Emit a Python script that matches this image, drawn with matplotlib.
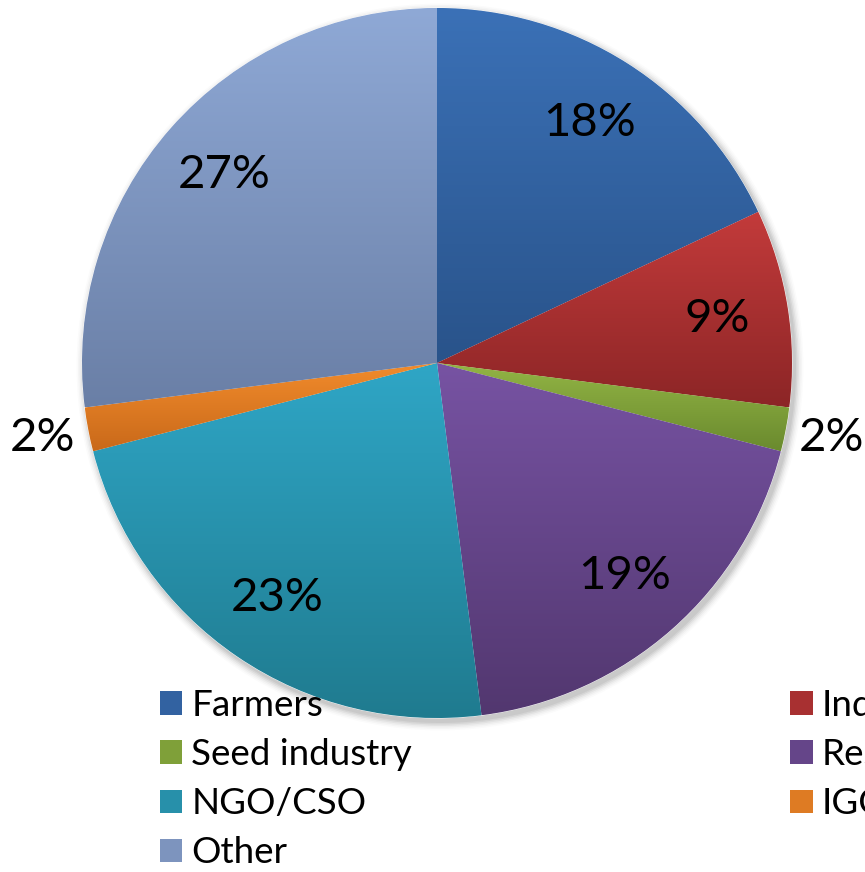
import numpy as np
import matplotlib
matplotlib.use("Agg")
from matplotlib import pyplot as plt
from matplotlib.patches import Patch, Circle
from matplotlib.colors import to_rgb

categories = ["Farmers", "Industry", "Seed industry", "Research", "NGO/CSO", "IGO", "Other"]
shares = [18, 9, 2, 19, 23, 2, 27]
top_colors = ["#3b71b7", "#c33b3b", "#93b545", "#7753a3", "#2fa6c6", "#f28c2c", "#8fa9d6"]
bottom_colors = ["#29538a", "#8c2526", "#6a8a2e", "#52376f", "#1f7a8e", "#c9691a", "#6a7fa6"]

plt.rcParams['font.family'] = ['Lato', 'DejaVu Sans']

fig = plt.figure(figsize=(8.65, 8.72), dpi=100)
ax = fig.add_axes([0, 0, 1, 1])

cx, cy, R = 437, 872 - 363, 355

# soft shadow under the pie
for i, a in enumerate(np.linspace(0.06, 0.015, 6)):
    ax.add_patch(Circle((cx + 3, cy - 4), R + 1 + i * 1.5, color="black", alpha=a, lw=0, zorder=0))

wedges, texts, autotexts = ax.pie(
    shares, startangle=90, counterclock=False, center=(cx, cy), radius=R,
    colors=top_colors, autopct="%d%%", pctdistance=0.80, frame=True,
    wedgeprops=dict(linewidth=0.6, edgecolor="white"),
    textprops=dict(fontsize=34, color="black"),
)
ax.set_xlim(0, 865)
ax.set_ylim(0, 872)
ax.axis("off")

# vertical gradient per slice
for w, c1, c2 in zip(wedges, top_colors, bottom_colors):
    v = w.get_path().vertices
    x0, x1 = v[:, 0].min(), v[:, 0].max()
    y0, y1 = v[:, 1].min(), v[:, 1].max()
    t = np.linspace(0, 1, 256)[:, None]
    grad = (1 - t) * np.array(to_rgb(c1)) + t * np.array(to_rgb(c2))
    img = ax.imshow(grad[:, None, :], extent=(x0, x1, y0, y1), origin="upper",
                    aspect="auto", interpolation="bilinear", zorder=w.get_zorder())
    img.set_clip_path(w)

# small slices get labels outside the pie
for w, t, s in zip(wedges, autotexts, shares):
    t.set_zorder(5)
    if s < 5:
        ang = np.deg2rad((w.theta1 + w.theta2) / 2)
        t.set_position((cx + 1.13 * R * np.cos(ang), cy + 1.13 * R * np.sin(ang)))

ax.set_aspect("auto")

# legend is wider than the figure, right column gets cut like in the original
order = [0, 2, 4, 6, 1, 3, 5]
handles = [Patch(facecolor=(np.array(to_rgb(top_colors[i])) + np.array(to_rgb(bottom_colors[i]))) / 2)
           for i in order]
leg = fig.legend(handles, [categories[i] for i in order], ncol=2,
                 loc="upper left", bbox_to_anchor=(0.185, 0.210),
                 frameon=False, fontsize=26.5, handlelength=0.6, handleheight=0.6,
                 handletextpad=0.25, labelspacing=0.44, columnspacing=10.28,
                 borderaxespad=0, borderpad=0)
leg.set_zorder(10)

fig.savefig("out.png", dpi=100)
